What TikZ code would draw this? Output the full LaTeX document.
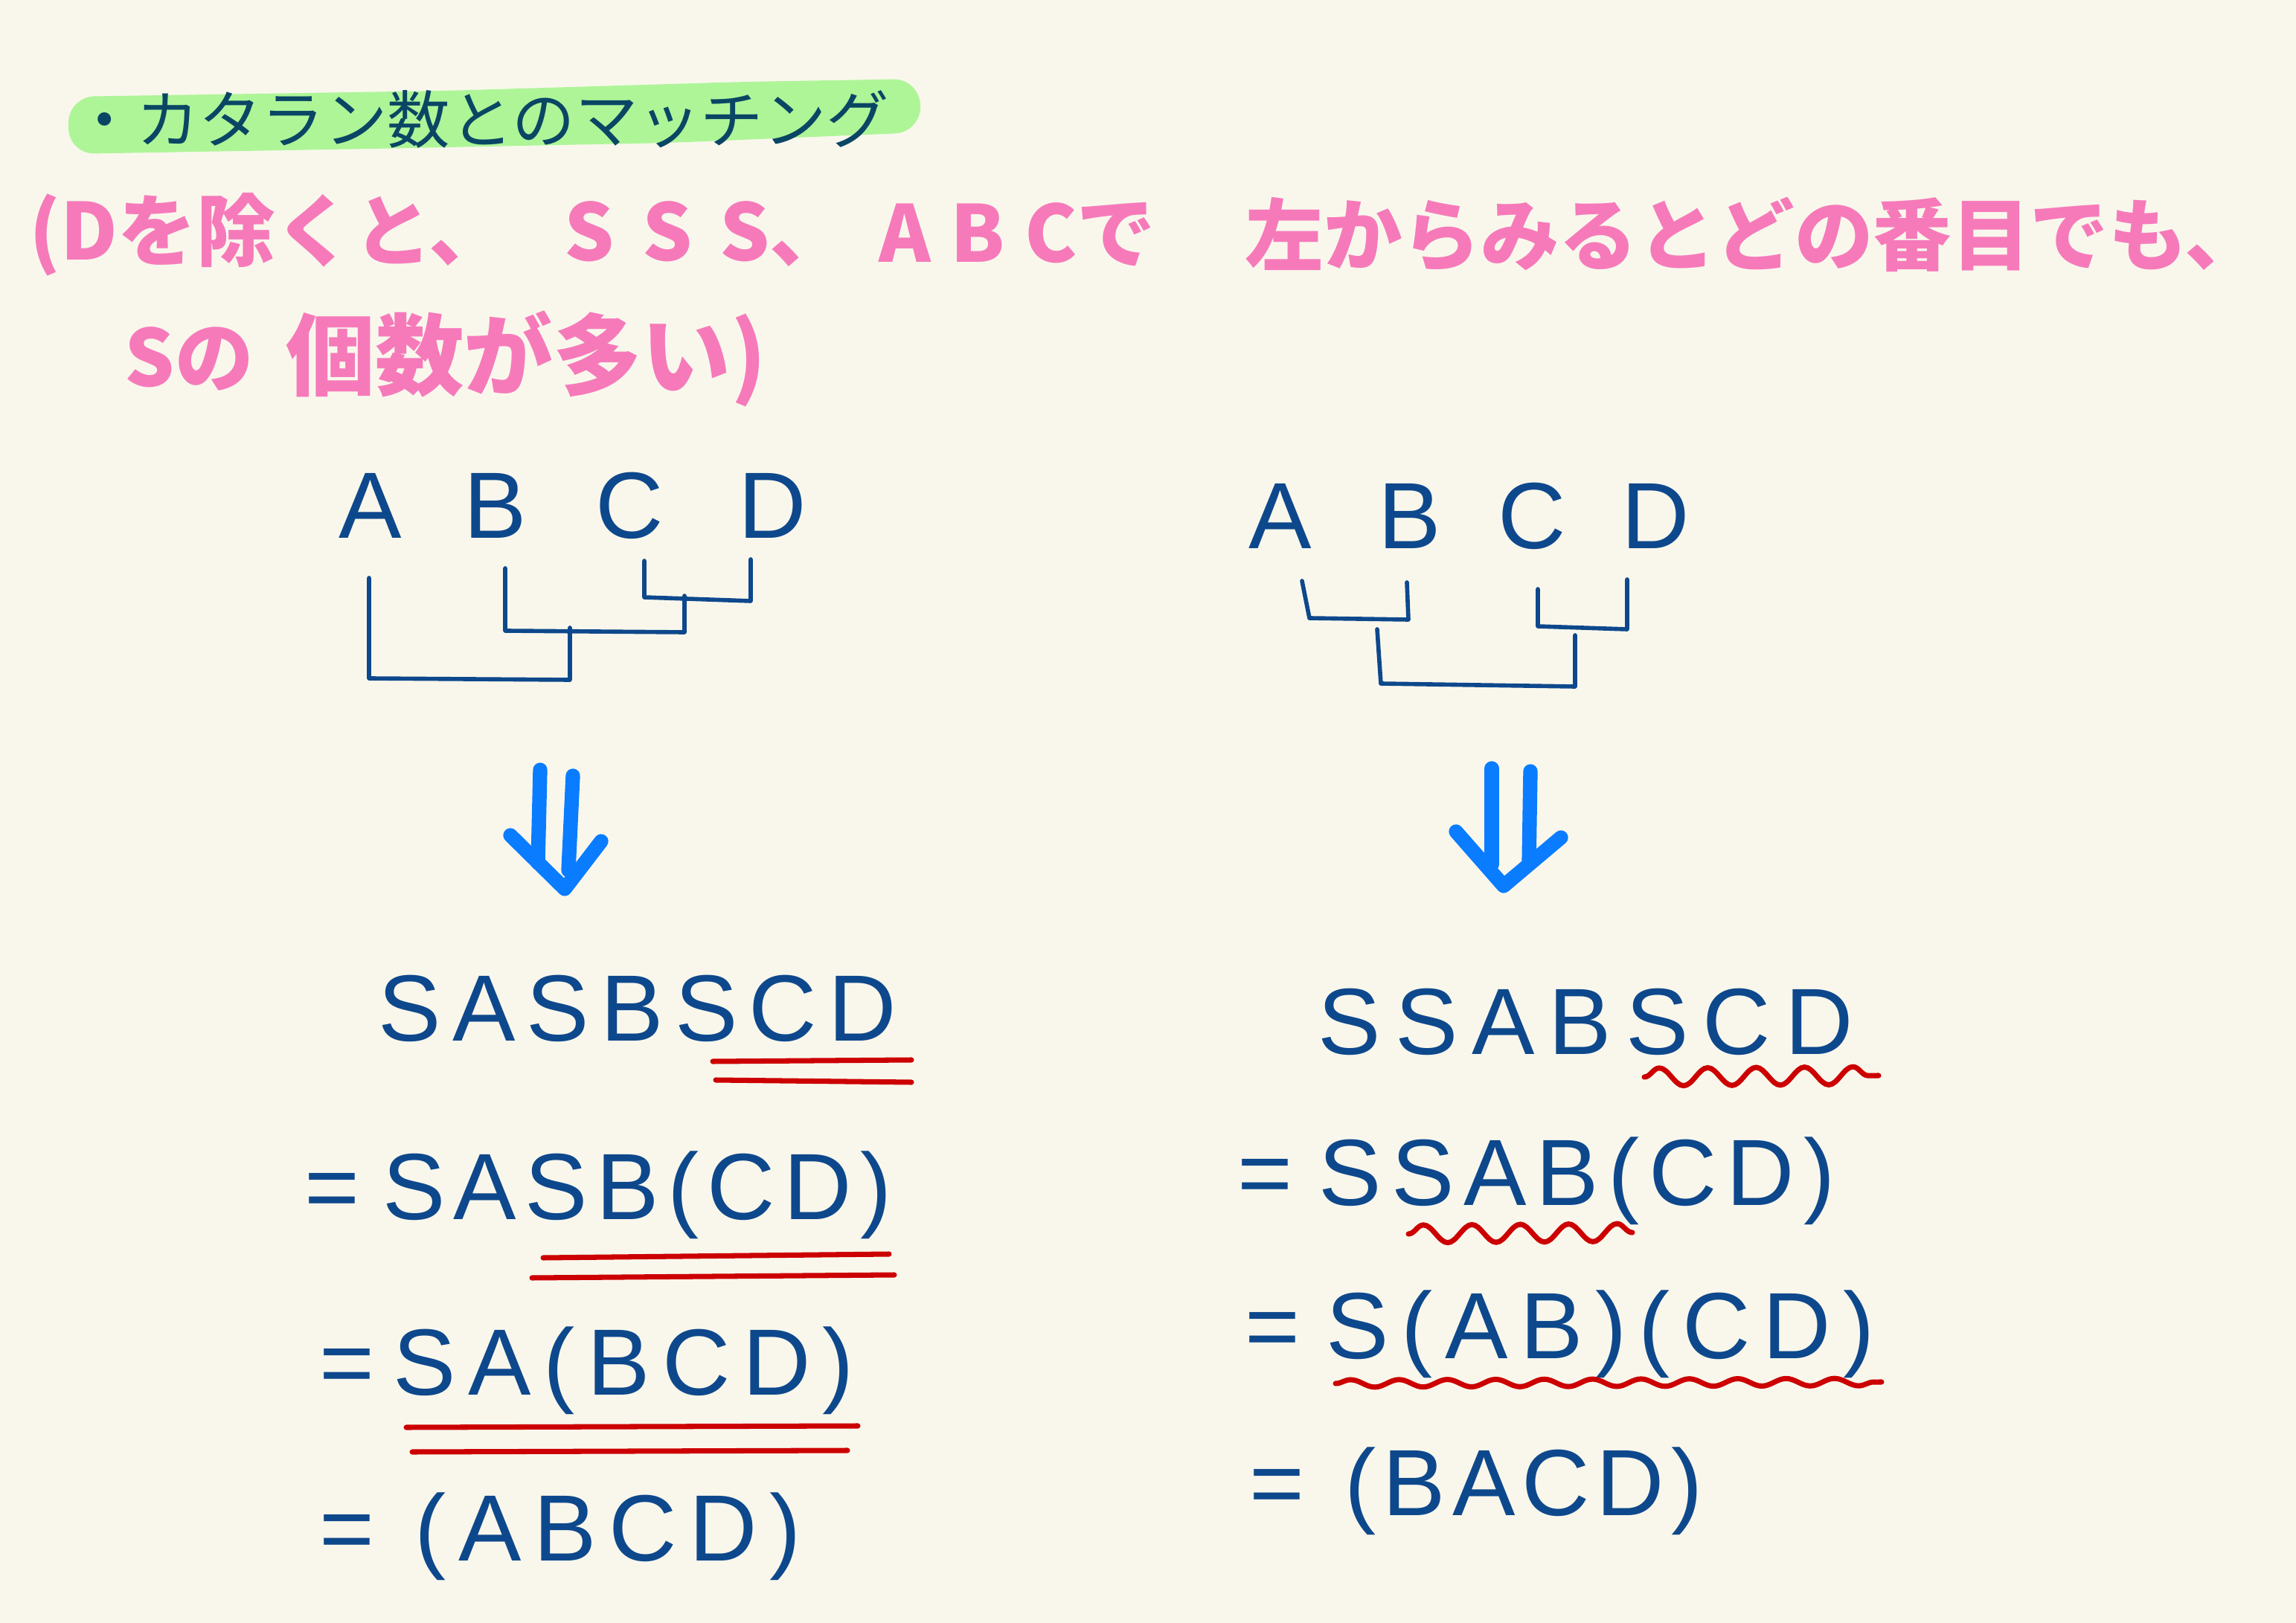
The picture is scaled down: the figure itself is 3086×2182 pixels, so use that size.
\documentclass[tikz,border=0pt]{standalone}
\usepackage{fontspec}
\setmainfont{Liberation Sans}
\newfontfamily\jpfont{Noto Sans CJK JP}
\newfontfamily\handfont[LetterSpace=10]{Liberation Sans}
\usetikzlibrary{decorations.pathmorphing}
\definecolor{paper}{RGB}{249,247,236}
\definecolor{ink}{RGB}{14,72,140}
\definecolor{titleink}{RGB}{10,70,100}
\definecolor{pinkink}{RGB}{246,122,186}
\definecolor{redink}{RGB}{204,0,0}
\definecolor{arrowblue}{RGB}{10,124,255}
\definecolor{hilite}{RGB}{174,245,152}
\tikzset{
  letter/.style={text=ink, font=\handfont\fontsize{36}{40}\selectfont, inner sep=0pt, anchor=base},
  eqline/.style={text=ink, font=\handfont\fontsize{36}{40}\selectfont\addfontfeature{LetterSpace=#1}, inner sep=0pt, anchor=base west},
  eqline/.default=10,
  note/.style={text=pinkink, font=\jpfont\bfseries\fontsize{#1}{34}\selectfont, anchor=west, inner sep=0pt},
  note/.default=30,
  heading/.style={text=titleink, font=\jpfont\fontsize{24}{28}\selectfont, anchor=west, inner sep=0pt},
  bracket/.style={draw=ink, line width=1.6pt, line cap=round, line join=round},
  underline/.style={draw=redink, line width=2pt, line cap=round},
  wavy/.style={underline, decorate, decoration={snake, amplitude=#1, segment length=0.65cm}},
  wavy/.default=0.12cm,
  bigarrow/.style={draw=arrowblue, line width=5.5pt, line cap=round, line join=round}
}
\begin{document}
\begin{tikzpicture}[x=0.01cm, y=-0.01cm]
    \useasboundingbox (0,0) rectangle (3086,2182);
    \fill[paper] (0,0) rectangle (3086,2182);
    % title
    \fill[hilite, rounded corners=0.35cm] (92,130) -- (600,122) -- (1000,110) -- (1236,106)
        -- (1238,178) -- (900,192) -- (500,200) -- (92,207) -- cycle;
    \node[heading] (title) at (98,161) {・カタラン数とのマッチング};
    % pink note
    \node[note] (note1) at (39,315) {(Dを除くと、};
    \node[note] (note2) at (758,315) {S\hspace{0.35em}S\hspace{0.35em}S、};
    \node[note] (note3) at (1181,315) {A\hspace{0.25em}B\hspace{0.25em}Cで};
    \node[note] (note4) at (1673,315) {左からみるとどの番目でも、};
    \node[note] (note5) at (167,482) {Sの};
    \node[note=34] (note6) at (384,482) {個数が多い)};
    % left tree
    \node[letter] (lA) at (498,724) {A};
    \node[letter] (lB) at (666,724) {B};
    \node[letter] (lC) at (846,724) {C};
    \node[letter] (lD) at (1038,724) {D};
    \draw[bracket] (866,754) -- (866,803) -- (1009,808) -- (1009,752);
    \draw[bracket] (679,764) -- (679,848) -- (920,850) -- (920,801);
    \draw[bracket] (496,777) -- (496,912) -- (766,914) -- (766,844);
    % right tree
    \node[letter] (rA) at (1721,738) {A};
    \node[letter] (rB) at (1895,738) {B};
    \node[letter] (rC) at (2059,738) {C};
    \node[letter] (rD) at (2225,738) {D};
    \draw[bracket] (1750,781) -- (1760,831) -- (1893,833) -- (1891,783);
    \draw[bracket] (2067,792) -- (2067,842) -- (2187,846) -- (2187,779);
    \draw[bracket] (1851,846) -- (1856,919) -- (2117,923) -- (2117,854);
    % arrows
    \draw[bigarrow] (726,1035) -- (723,1160);
    \draw[bigarrow] (770,1043) -- (764,1170);
    \draw[bigarrow] (686,1123) -- (759,1195) -- (808,1131);
    \draw[bigarrow] (2005,1033) -- (2005,1162);
    \draw[bigarrow] (2057,1037) -- (2055,1162);
    \draw[bigarrow] (1957,1118) -- (2021,1191) -- (2098,1126);
    % left column
    \node[eqline=12] (lrow1) at (508,1399) {SASBSCD};
    \node[eqline=9] (lrow2) at (409,1639) {=\hspace{0.24em}SASB(CD)};
    \node[eqline=13] (lrow3) at (429,1875) {=\hspace{0.2em}SA(BCD)};
    \node[eqline=13] (lrow4) at (429,2098) {=\hspace{0.43em}(ABCD)};
    \draw[underline] (958,1427) -- (1225,1425);
    \draw[underline] (962,1452) -- (1225,1455);
    \draw[underline] (730,1691) -- (1195,1686);
    \draw[underline] (715,1718) -- (1202,1714);
    \draw[underline] (546,1919) -- (1153,1917);
    \draw[underline] (554,1952) -- (1139,1950);
    % right column
    \node[eqline=15] (rrow1) at (1771,1417) {SSABSCD};
    \node[eqline=10] (rrow2) at (1663,1620) {=\hspace{0.28em}SSAB(CD)};
    \node[eqline=13] (rrow3) at (1673,1826) {=\hspace{0.28em}S(AB)(CD)};
    \node[eqline=7] (rrow4) at (1679,2037) {=\hspace{0.43em}(BACD)};
    \draw[wavy] (2210,1448) -- (2525,1446);
    \draw[wavy] (1893,1659) -- (2194,1657);
    \draw[wavy=0.05cm] (1795,1860) -- (2529,1858);
\end{tikzpicture}
\end{document}
